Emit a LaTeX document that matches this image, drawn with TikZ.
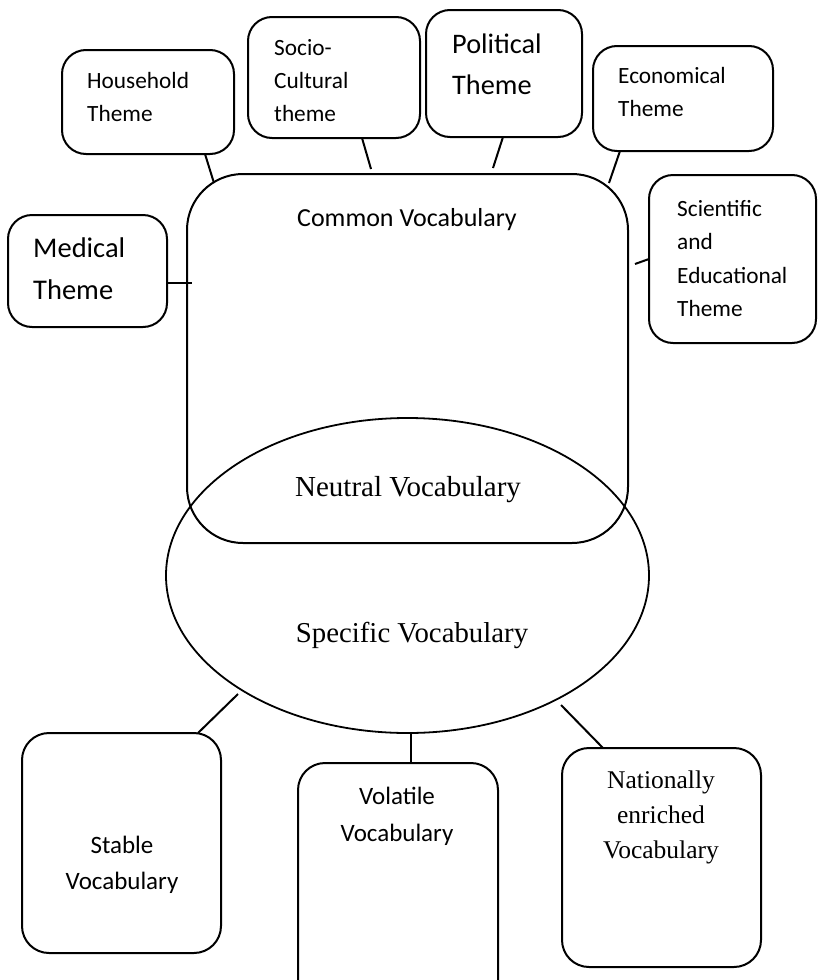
\documentclass[tikz,border=0pt]{standalone}
\usepackage{fontspec}
\newfontfamily\calfont{Carlito}
\newfontfamily\tmsfont{Liberation Serif}
\usetikzlibrary{shapes.geometric}
\tikzset{
  tbox/.style={draw, line width=2pt, rounded corners=24pt, outer sep=0pt, inner sep=0pt, anchor=north west},
  bbox/.style={draw, line width=2pt, rounded corners=27pt, outer sep=0pt, inner sep=0pt, anchor=north west},
  conn/.style={line width=2pt},
  ttext/.style={inner sep=0pt, anchor=west, align=left},
  ctext/.style={inner sep=0pt, anchor=center, align=center},
  small/.style={font=\calfont\fontsize{23.3}{33}\selectfont},
  large/.style={font=\calfont\fontsize{28.3}{41}\selectfont},
}
\begin{document}
\begin{tikzpicture}[x=1pt, y=-1pt]
\useasboundingbox (0,0) rectangle (818,980);
\clip (0,0) rectangle (818,980);
% top theme boxes
\node[tbox, minimum width=172pt, minimum height=104pt] (hh) at (62,50) {};
\node[ttext, small] (hht) at (87,96.5) {Household\\Theme};
\node[tbox, minimum width=172pt, minimum height=121pt] (sc) at (248,17) {};
\node[ttext, small] (sct) at (274,80.5) {Socio-\\Cultural\\theme};
\node[tbox, minimum width=156pt, minimum height=127pt] (po) at (426,10) {};
\node[ttext, large] (pot) at (452,64) {Political\\Theme};
\node[tbox, minimum width=180pt, minimum height=105pt] (ec) at (593,46) {};
\node[ttext, small] (ect) at (618,91.5) {Economical\\Theme};
\node[tbox, minimum width=167pt, minimum height=168pt] (si) at (649,175) {};
\node[ttext, font=\calfont\fontsize{23.3}{33.3}\selectfont] (sit) at (677,258.5) {Scientific\\and\\Educational\\Theme};
\node[tbox, minimum width=159pt, minimum height=112pt] (me) at (8,215) {};
\node[ttext, font=\calfont\fontsize{28.5}{42}\selectfont] (met) at (33,269) {Medical\\Theme};
% common vocabulary
\node[draw, line width=2pt, rounded corners=56pt, outer sep=0pt, inner sep=0pt, anchor=north west,
      minimum width=441pt, minimum height=369pt] (cv) at (187,174) {};
\node[ctext, font=\calfont\fontsize{26}{30}\selectfont] (cvt) at (407,220) {Common Vocabulary};
% specific vocabulary ellipse
\node[draw, ellipse, line width=1.8pt, outer sep=0pt, inner sep=0pt,
      minimum width=483pt, minimum height=315pt] (sv) at (407.5,575.5) {};
\node[ctext, font=\tmsfont\fontsize{29}{34}\selectfont] (nvt) at (408,490) {Neutral Vocabulary};
\node[ctext, font=\tmsfont\fontsize{28.8}{34}\selectfont] (svt) at (412,635) {Specific Vocabulary};
% bottom boxes
\node[bbox, minimum width=199pt, minimum height=220pt] (st) at (22,733) {};
\node[ctext, font=\calfont\fontsize{25}{36}\selectfont] (stt) at (122,865) {Stable\\Vocabulary};
\node[bbox, minimum width=200pt, minimum height=245pt] (vo) at (298,763) {};
\node[ctext, font=\calfont\fontsize{25}{37}\selectfont] (vot) at (397,816.5) {Volatile\\Vocabulary};
\node[bbox, minimum width=199pt, minimum height=219pt] (na) at (562,748) {};
\node[ctext, font=\tmsfont\fontsize{25.5}{35}\selectfont] (nat) at (661,817) {Nationally\\enriched\\Vocabulary};
% connector ends on the large shapes
\coordinate (c1) at (214,183);
\coordinate (c2) at (371,169);
\coordinate (c3) at (493,168);
\coordinate (c4) at (609,183);
\coordinate (c5) at (635,264);
\coordinate (c6) at (192,283);
\coordinate (c7) at (238,694);
\coordinate (c8) at (411,733);
\coordinate (c9) at (561,705);
% connectors
\draw[conn] ([xshift=143pt]hh.south west) -- (c1);
\draw[conn] ([xshift=114pt]sc.south west) -- (c2);
\draw[conn] ([xshift=77pt]po.south west) -- (c3);
\draw[conn] ([xshift=27pt]ec.south west) -- (c4);
\draw[conn] (si.west) -- (c5);
\draw[conn] ([yshift=-12pt]me.east) -- (c6);
\draw[conn] ([xshift=176pt]st.north west) -- (c7);
\draw[conn] ([xshift=113pt]vo.north west) -- (c8);
\draw[conn] ([xshift=41pt]na.north west) -- (c9);
\end{tikzpicture}
\end{document}
